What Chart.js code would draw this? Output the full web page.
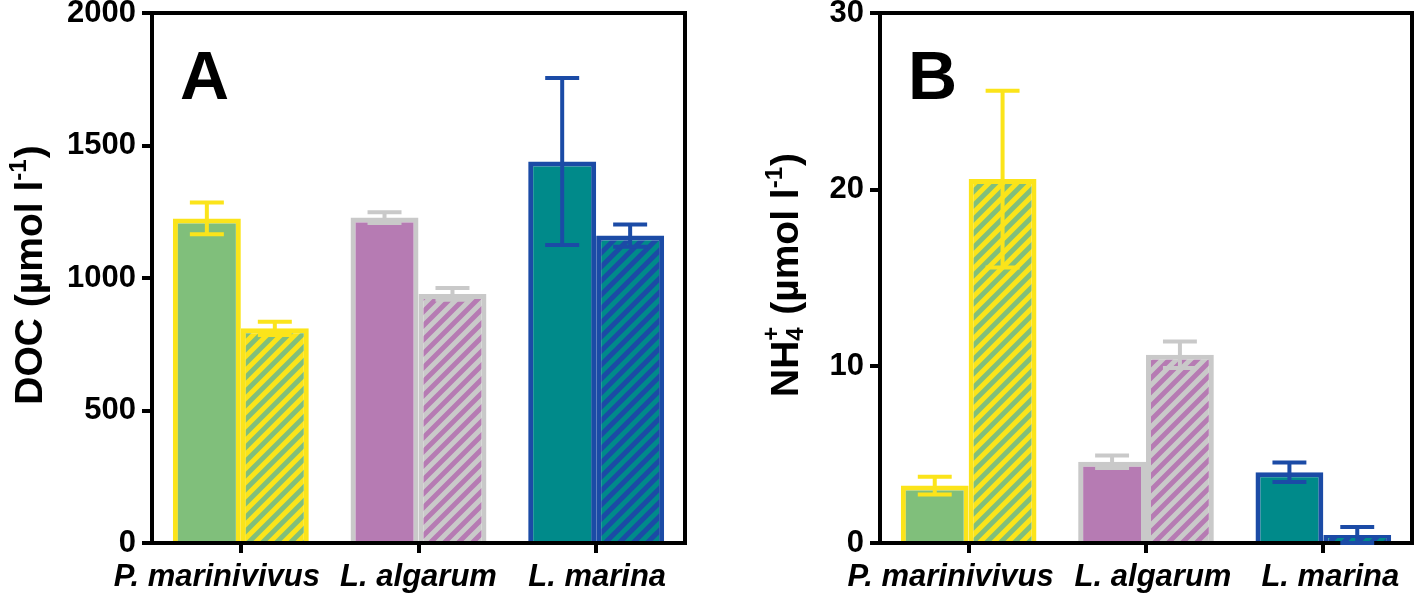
<!DOCTYPE html>
<html>
<head>
<meta charset="utf-8">
<script src="https://cdn.jsdelivr.net/npm/chart.js@4.4.1/dist/chart.umd.min.js"></script>
<style>
  body { margin: 0; background: #fff; }
  #wrap { position: relative; width: 1418px; height: 595px; }
  canvas { position: absolute; top: 0; }
  #docChart { left: 0; }
  #nh4Chart { left: 710px; }
</style>
</head>
<body>
<div id="wrap">
  <canvas id="docChart" width="710" height="595"></canvas>
  <canvas id="nh4Chart" width="708" height="595"></canvas>
</div>
<script>
// Bacterial strains
const species = ['P. marinivivus', 'L. algarum', 'L. marina'];

// Panel A - DOC (umol l-1)
const docSolid = [1225, 1228, 1440];
const docSolidErr = [60, 20, 315];
const docHatched = [810, 940, 1160];
const docHatchedErr = [25, 22, 42];
const docTicks = [0, 500, 1000, 1500, 2000];

// Panel B - NH4+ (umol l-1)
const nh4Solid = [3.25, 4.6, 4.0];
const nh4SolidErr = [0.5, 0.35, 0.55];
const nh4Hatched = [20.6, 10.65, 0.45];
const nh4HatchedErr = [5.0, 0.75, 0.45];
const nh4Ticks = [0, 10, 20, 30];

const fills = ['#80bf7b', '#b67bb3', '#008a8a'];
const edges = ['#fbe41a', '#c9c9c9', '#1b4ba6'];

const FONT = 'Arial, "Liberation Sans", sans-serif';
Chart.defaults.font.family = FONT;

function makeHatch(bg, stripe) {
    const n = 14;
    const c = document.createElement('canvas');
    c.width = c.height = n;
    const g = c.getContext('2d');
    g.fillStyle = bg;
    g.fillRect(0, 0, n, n);
    g.strokeStyle = stripe;
    g.lineWidth = 5;
    g.beginPath();
    g.moveTo(0, n); g.lineTo(n, 0);
    g.moveTo(-n / 2, n / 2); g.lineTo(n / 2, -n / 2);
    g.moveTo(n / 2, n * 1.5); g.lineTo(n * 1.5, n / 2);
    g.stroke();
    return g.createPattern(c, 'repeat');
}

// rotated axis title with sub/superscripts
function drawTitle(ctx, parts, baseX, cy, size) {
    const big = `bold ${size}px ${FONT}`;
    const small = `bold ${Math.round(size * 0.62)}px ${FONT}`;
    const widths = parts.map(p => {
        if (p.sub || p.sup) {
            ctx.font = small;
            return Math.max(p.sub ? ctx.measureText(p.sub).width : 0, p.sup ? ctx.measureText(p.sup).width : 0) + 1;
        }
        ctx.font = big;
        return ctx.measureText(p.t).width;
    });
    const total = widths.reduce((a, b) => a + b, 0);
    ctx.save();
    ctx.translate(baseX, cy);
    ctx.rotate(-Math.PI / 2);
    ctx.fillStyle = '#000';
    ctx.textAlign = 'left';
    ctx.textBaseline = 'alphabetic';
    let x = -total / 2;
    parts.forEach((p, i) => {
        if (p.sub || p.sup) {
            ctx.font = small;
            if (p.sub) ctx.fillText(p.sub, x, size * 0.14);
            if (p.sup) ctx.fillText(p.sup, x, -size * (p.sub ? 0.48 : 0.4));
        } else {
            ctx.font = big;
            ctx.fillText(p.t, x, 0);
        }
        x += widths[i];
    });
    ctx.restore();
}

const decor = {
    id: 'decor',
    afterDatasetsDraw(chart) {
        const ctx = chart.ctx;
        const y = chart.scales.y;
        ctx.save();
        ctx.lineWidth = 4;
        chart.data.datasets.forEach((ds, di) => {
            chart.getDatasetMeta(di).data.forEach((bar, i) => {
                const v = ds.data[i], e = ds.errors[i];
                const top = y.getPixelForValue(v + e);
                const bot = y.getPixelForValue(Math.max(0, v - e));
                const half = bar.width / 4;
                ctx.strokeStyle = ds.borderColor[i];
                ctx.beginPath();
                ctx.moveTo(bar.x, top); ctx.lineTo(bar.x, bot);
                ctx.moveTo(bar.x - half, top); ctx.lineTo(bar.x + half, top);
                ctx.moveTo(bar.x - half, bot); ctx.lineTo(bar.x + half, bot);
                ctx.stroke();
            });
        });
        ctx.restore();
    },
    afterDraw(chart, args, opts) {
        const ctx = chart.ctx;
        const a = chart.chartArea;
        const x = chart.scales.x;
        ctx.save();
        // top and right frame
        ctx.strokeStyle = '#000';
        ctx.lineWidth = 4;
        ctx.lineCap = 'square';
        ctx.beginPath();
        ctx.moveTo(a.left, a.top);
        ctx.lineTo(a.right, a.top);
        ctx.lineTo(a.right, a.bottom);
        ctx.stroke();
        // panel letter
        ctx.fillStyle = '#000';
        ctx.font = `bold 68px ${FONT}`;
        ctx.textBaseline = 'alphabetic';
        ctx.textAlign = 'left';
        ctx.fillText(opts.letter, a.left + 28, 99);
        // category labels
        ctx.font = `italic bold 31px ${FONT}`;
        ctx.textAlign = 'center';
        chart.data.labels.forEach((lab, i) => {
            ctx.fillText(lab, x.getPixelForValue(i) + opts.labelShift[i], 586);
        });
        ctx.restore();
        drawTitle(ctx, opts.title, opts.titleX, 275, 39);
    }
};

function makeChart(id, solid, solidErr, hatched, hatchedErr, ticks, yWidth, padRight, plug) {
    return new Chart(document.getElementById(id), {
        type: 'bar',
        data: {
            labels: species,
            datasets: [{
                data: solid,
                errors: solidErr,
                backgroundColor: fills,
                borderColor: edges,
                borderWidth: 5
            }, {
                data: hatched,
                errors: hatchedErr,
                backgroundColor: fills.map((f, i) => makeHatch(f, edges[i])),
                borderColor: edges,
                borderWidth: 5
            }]
        },
        options: {
            responsive: false,
            devicePixelRatio: 1,
            animation: false,
            layout: { padding: { top: 13, right: padRight, left: 0, bottom: 0 } },
            datasets: { bar: { barPercentage: 1.0, categoryPercentage: 0.765, inflateAmount: 0 } },
            plugins: { legend: { display: false }, tooltip: { enabled: false }, decor: plug },
            scales: {
                x: {
                    z: 1,
                    grid: { display: true, drawOnChartArea: false, drawTicks: true, tickLength: 10, lineWidth: 4, color: '#000', offset: false },
                    border: { display: true, width: 4, color: '#000' },
                    ticks: { display: false },
                    afterFit: s => { s.height = 52; s.paddingLeft = 0; s.paddingRight = 0; }
                },
                y: {
                    z: 1,
                    min: ticks[0],
                    max: ticks[ticks.length - 1],
                    afterBuildTicks: s => { s.ticks = ticks.map(v => ({ value: v })); },
                    ticks: {
                        color: '#000',
                        font: { size: 31, weight: 'bold' },
                        padding: 6,
                        callback: v => String(v)
                    },
                    grid: { drawOnChartArea: false, drawTicks: true, tickLength: 10, lineWidth: 4, color: '#000' },
                    border: { display: true, width: 4, color: '#000' },
                    afterFit: s => { s.width = yWidth; s.paddingTop = 0; s.paddingBottom = 0; }
                }
            }
        },
        plugins: [decor]
    });
}

makeChart('docChart', docSolid, docSolidErr, docHatched, docHatchedErr, docTicks, 152, 25, {
    letter: 'A',
    labelShift: [-24, 0, 1],
    titleX: 42,
    title: [{ t: 'DOC (\u00b5mol l' }, { sup: '-1' }, { t: ')' }]
});

makeChart('nh4Chart', nh4Solid, nh4SolidErr, nh4Hatched, nh4HatchedErr, nh4Ticks, 170, 6, {
    letter: 'B',
    labelShift: [-18, 7, 7],
    titleX: 88,
    title: [{ t: 'NH' }, { sub: '4', sup: '+' }, { t: ' (\u00b5mol l' }, { sup: '-1' }, { t: ')' }]
});
</script>
</body>
</html>
